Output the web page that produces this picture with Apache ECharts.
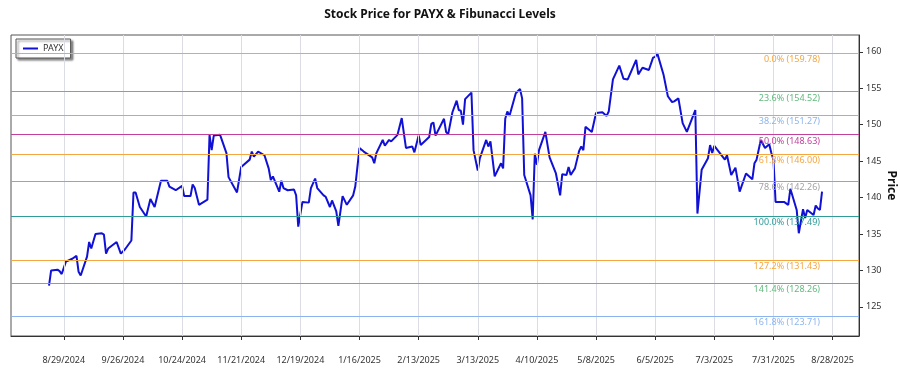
<!DOCTYPE html>
<html>
<head>
<meta charset="utf-8">
<title>PAYX Fibonacci</title>
<script src="https://cdn.jsdelivr.net/npm/echarts@6/dist/echarts.min.js"></script>
<style>
  html, body { margin: 0; padding: 0; background: #fff; }
  #chart { width: 900px; height: 375px; }
</style>
</head>
<body>
<div id="chart"></div>
<script>
  // price series
  const dates = [
    '2024-08-22', '2024-08-23', '2024-08-26', '2024-08-27', '2024-08-28', '2024-08-30', '2024-09-02', '2024-09-04',
    '2024-09-05', '2024-09-06', '2024-09-09', '2024-09-10', '2024-09-11', '2024-09-13', '2024-09-16', '2024-09-17',
    '2024-09-18', '2024-09-19', '2024-09-23', '2024-09-25', '2024-09-27', '2024-09-30', '2024-10-01', '2024-10-02',
    '2024-10-04', '2024-10-07', '2024-10-09', '2024-10-11', '2024-10-14', '2024-10-17', '2024-10-18', '2024-10-21',
    '2024-10-24', '2024-10-25', '2024-10-28', '2024-10-29', '2024-10-30', '2024-11-01', '2024-11-05', '2024-11-06',
    '2024-11-07', '2024-11-08', '2024-11-11', '2024-11-14', '2024-11-15', '2024-11-19', '2024-11-21', '2024-11-25',
    '2024-11-26', '2024-11-27', '2024-11-29', '2024-12-02', '2024-12-04', '2024-12-05', '2024-12-06', '2024-12-09',
    '2024-12-10', '2024-12-11', '2024-12-13', '2024-12-16', '2024-12-17', '2024-12-18', '2024-12-20', '2024-12-23',
    '2024-12-24', '2024-12-26', '2024-12-27', '2024-12-30', '2024-12-31', '2025-01-02', '2025-01-03', '2025-01-05',
    '2025-01-06', '2025-01-08', '2025-01-10', '2025-01-13', '2025-01-14', '2025-01-16', '2025-01-18', '2025-01-22',
    '2025-01-23', '2025-01-24', '2025-01-27', '2025-01-28', '2025-01-30', '2025-01-31', '2025-02-03', '2025-02-05',
    '2025-02-07', '2025-02-10', '2025-02-11', '2025-02-13', '2025-02-14', '2025-02-18', '2025-02-19', '2025-02-20',
    '2025-02-21', '2025-02-25', '2025-02-26', '2025-02-27', '2025-03-01', '2025-03-03', '2025-03-04', '2025-03-05',
    '2025-03-06', '2025-03-07', '2025-03-10', '2025-03-11', '2025-03-13', '2025-03-14', '2025-03-17', '2025-03-18',
    '2025-03-19', '2025-03-21', '2025-03-24', '2025-03-25', '2025-03-26', '2025-03-27', '2025-03-28', '2025-03-31',
    '2025-04-02', '2025-04-03', '2025-04-04', '2025-04-07', '2025-04-08', '2025-04-09', '2025-04-10', '2025-04-11',
    '2025-04-14', '2025-04-16', '2025-04-19', '2025-04-21', '2025-04-22', '2025-04-24', '2025-04-25', '2025-04-26',
    '2025-04-28', '2025-04-30', '2025-05-01', '2025-05-02', '2025-05-03', '2025-05-06', '2025-05-08', '2025-05-11',
    '2025-05-13', '2025-05-14', '2025-05-16', '2025-05-19', '2025-05-21', '2025-05-23', '2025-05-27', '2025-05-28',
    '2025-05-30', '2025-06-02', '2025-06-04', '2025-06-05', '2025-06-06', '2025-06-09', '2025-06-11', '2025-06-13',
    '2025-06-14', '2025-06-16', '2025-06-18', '2025-06-20', '2025-06-24', '2025-06-25', '2025-06-27', '2025-06-30',
    '2025-07-01', '2025-07-02', '2025-07-03', '2025-07-08', '2025-07-09', '2025-07-11', '2025-07-13', '2025-07-15',
    '2025-07-18', '2025-07-21', '2025-07-22', '2025-07-23', '2025-07-25', '2025-07-27', '2025-07-29', '2025-07-30',
    '2025-07-31', '2025-08-01', '2025-08-05', '2025-08-07', '2025-08-08', '2025-08-11', '2025-08-12', '2025-08-14',
    '2025-08-15', '2025-08-16', '2025-08-19', '2025-08-20', '2025-08-21', '2025-08-22', '2025-08-23'
  ];
  const prices = [
    127.9, 130.0, 130.1, 129.9, 129.5, 131.2, 131.6, 132.0,
    129.8, 129.3, 131.9, 133.9, 133.0, 135.0, 135.1, 134.9,
    132.3, 133.0, 133.9, 132.3, 132.9, 134.1, 140.7, 140.7,
    138.7, 137.4, 139.8, 138.7, 142.3, 142.3, 141.5, 141.0,
    141.6, 140.2, 140.2, 141.8, 141.3, 139.0, 139.7, 148.6,
    146.5, 148.5, 148.6, 146.1, 142.8, 140.7, 144.2, 145.2,
    146.3, 145.6, 146.3, 145.8, 144.0, 142.4, 142.9, 140.8,
    142.3, 141.3, 141.0, 141.1, 140.3, 136.0, 139.4, 139.3,
    141.3, 142.6, 141.3, 140.3, 140.1, 138.7, 139.6, 138.1,
    136.1, 140.2, 139.0, 140.3, 141.5, 146.8, 146.3, 145.5,
    144.7, 146.1, 147.9, 147.1, 147.9, 147.7, 148.6, 150.9,
    146.8, 147.0, 146.2, 148.5, 147.2, 148.3, 150.1, 150.3,
    148.5, 150.8, 149.0, 148.7, 151.7, 153.3, 152.0, 151.9,
    150.0, 153.5, 154.4, 146.5, 143.7, 145.4, 147.9, 147.0,
    147.7, 142.9, 144.7, 144.0, 150.8, 151.8, 151.2, 154.3,
    154.9, 153.6, 143.1, 140.3, 137.0, 146.0, 144.5, 146.5,
    149.0, 145.5, 143.3, 140.3, 143.2, 143.1, 144.2, 143.1,
    144.0, 146.4, 147.0, 146.5, 149.7, 149.0, 151.6, 151.7,
    151.2, 151.8, 156.2, 158.1, 156.3, 156.2, 158.9, 156.9,
    157.8, 157.5, 159.2, 159.3, 159.78, 156.8, 153.9, 153.1,
    153.2, 153.6, 150.2, 149.0, 152.0, 137.8, 143.8, 145.4,
    147.2, 146.1, 147.1, 145.2, 145.8, 143.1, 144.1, 140.8,
    143.3, 142.5, 144.7, 145.2, 147.9, 146.8, 147.3, 146.1,
    145.2, 139.4, 139.4, 139.0, 141.2, 138.3, 135.1, 138.4,
    137.2, 138.3, 137.6, 138.9, 138.5, 138.3, 140.8
  ];

  // fibonacci levels
  const fibPercents = ['0.0%', '23.6%', '38.2%', '50.0%', '61.8%', '78.6%', '100.0%', '127.2%', '141.4%', '161.8%'];
  const fibValues = [159.78, 154.52, 151.27, 148.63, 146.00, 142.26, 137.49, 131.43, 128.26, 123.71];
  const fibColors = ['#f4a640', '#62ba7e', '#8cb4ee', '#c2409c', '#f4a640', '#a3a3a3', '#2f9c99', '#f4a640', '#62ba7e', '#8cb4ee'];

  // axis ticks
  const xTicks = ['2024-08-29', '2024-09-26', '2024-10-24', '2024-11-21', '2024-12-19', '2025-01-16', '2025-02-13',
    '2025-03-13', '2025-04-10', '2025-05-08', '2025-06-05', '2025-07-03', '2025-07-31', '2025-08-28'];
  const yTicks = [125, 130, 135, 140, 145, 150, 155, 160];

  const toTime = (s) => {
    const p = s.split('-');
    return Date.UTC(+p[0], +p[1] - 1, +p[2]);
  };
  const fmtDate = (val) => {
    const d = new Date(val);
    return (d.getUTCMonth() + 1) + '/' + d.getUTCDate() + '/' + d.getUTCFullYear();
  };

  const chart = echarts.init(document.getElementById('chart'));

  const getOption = () => {
    const seriesData = dates.map((d, i) => [toTime(d), prices[i]]);
    const tickTimes = xTicks.map(toTime);
    const fibLines = fibValues.map((v, i) => ({
      yAxis: v,
      name: fibPercents[i] + ' (' + v.toFixed(2) + ')',
      lineStyle: { color: fibColors[i], width: 1, type: 'solid' },
      label: { color: fibColors[i] },
    }));
    // vertical grid lines at the date ticks, drawn as start/end pairs
    const gridLines = tickTimes.map((t) => [
      { coord: [t, 121] },
      { coord: [t, 162.3] },
    ]);

    return {
      animation: false,
      textStyle: { fontFamily: 'Noto Sans' },
      title: {
        text: 'Stock Price for PAYX & Fibunacci Levels',
        left: 435,
        top: 4,
        textAlign: 'center',
        textStyle: { fontSize: 12, fontWeight: 'bold', color: '#111', fontFamily: 'Noto Sans' },
      },
      legend: {
        left: 16,
        top: 39,
        padding: [5, 7],
        itemWidth: 15,
        itemHeight: 2,
        backgroundColor: '#fff',
        borderColor: '#555',
        borderWidth: 1,
        borderRadius: 0,
        shadowColor: 'rgba(0,0,0,0.45)',
        shadowBlur: 2,
        shadowOffsetX: 2,
        shadowOffsetY: 2,
        textStyle: { fontSize: 9, color: '#333' },
        data: [{ name: 'PAYX', icon: 'rect' }],
      },
      grid: {
        left: 11,
        right: 41,
        top: 35,
        bottom: 39,
        containLabel: false,
        outerBoundsMode: 'none',
        show: true,
        borderColor: '#555',
        borderWidth: 1,
      },
      xAxis: {
        type: 'value',
        min: toTime('2024-08-04'),
        max: toTime('2025-09-09') + 12 * 3600 * 1000,
        axisLine: { show: true, onZero: false, lineStyle: { color: '#333' } },
        axisTick: {
          show: true,
          length: 4,
          lineStyle: { color: '#333' },
          customValues: tickTimes,
        },
        axisLabel: {
          fontSize: 9,
          color: '#333',
          margin: 20,
          customValues: tickTimes,
          formatter: fmtDate,
        },
        splitLine: { show: false },
      },
      yAxis: {
        type: 'value',
        position: 'right',
        min: 121,
        max: 162.3,
        name: 'Price',
        nameLocation: 'middle',
        nameRotate: -90,
        nameGap: 26,
        nameMoveOverlap: false,
        nameTextStyle: { fontSize: 12, fontWeight: 'bold', color: '#111' },
        axisLine: { show: true, lineStyle: { color: '#333' } },
        axisTick: { show: true, length: 4, lineStyle: { color: '#333' }, customValues: yTicks },
        axisLabel: { fontSize: 9, color: '#333', margin: 7, customValues: yTicks },
        splitLine: { show: false },
      },
      series: [
        {
          name: 'vgrid',
          type: 'line',
          data: seriesData,
          symbol: 'none',
          lineStyle: { opacity: 0 },
          silent: true,
          z: 1,
          markLine: {
            silent: true,
            symbol: ['none', 'none'],
            animation: false,
            label: { show: false },
            lineStyle: { color: '#dcdce4', width: 1, type: 'solid' },
            data: gridLines,
          },
        },
        {
          name: 'PAYX',
          type: 'line',
          data: seriesData,
          symbol: 'none',
          lineStyle: { color: '#1111d6', width: 2 },
          itemStyle: { color: '#1111d6' },
          z: 3,
          markLine: {
            silent: true,
            symbol: ['none', 'none'],
            animation: false,
            label: {
              show: true,
              position: 'insideEndBottom',
              distance: [39, 2],
              fontSize: 9,
              formatter: '{b}',
            },
            data: fibLines,
          },
        },
      ],
    };
  };

  chart.setOption(getOption());
</script>
</body>
</html>
